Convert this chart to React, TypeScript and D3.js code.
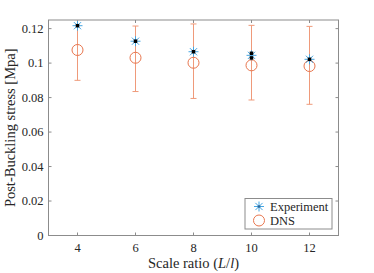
import React from "react";
import * as d3 from "d3";

const scales = [4, 6, 8, 10, 12];
const experimentMean = [0.1217, 0.1127, 0.1066, 0.1045, 0.1022];
const experimentSamples: number[][] = [[0.1217], [0.1127], [0.1066], [0.1057, 0.103], [0.1022]];
const dnsMean = [0.1076, 0.1031, 0.1002, 0.0987, 0.0983];
const dnsLow = [0.09, 0.0835, 0.0795, 0.0786, 0.0761];
const dnsHigh = [0.1252, 0.1215, 0.1227, 0.1219, 0.1213];
const xTicks = [4, 6, 8, 10, 12];
const yTicks = [0, 0.02, 0.04, 0.06, 0.08, 0.1, 0.12];
const yTickLabels = ["0", "0.02", "0.04", "0.06", "0.08", "0.1", "0.12"];

const W = 374, H = 273;
const L = 48.5, R = 338.5, T = 20, B = 235.5;
const axisColor = "#8c8c8c";
const textColor = "#262626";
const blue = "#46a6e2";
const orange = "#e8764e";
const barColor = "#ef9a7a";
const font = "'Liberation Serif', 'Times New Roman', serif";

function Star({ x, y }: { x: number; y: number }) {
  const r = 5, d = 3.6;
  return (
    <g stroke={blue} strokeWidth={1}>
      <line x1={x - r} x2={x + r} y1={y} y2={y} />
      <line x1={x} x2={x} y1={y - r} y2={y + r} />
      <line x1={x - d} x2={x + d} y1={y - d} y2={y + d} />
      <line x1={x - d} x2={x + d} y1={y + d} y2={y - d} />
    </g>
  );
}

export default function App() {
  const x = d3.scaleLinear().domain([3, 13]).range([L, R]);
  const y = d3.scaleLinear().domain([0, 0.125]).range([B, T]);
  return (
    <svg width={W} height={H} style={{ position: "absolute", left: 0, top: 0, background: "#fff" }}>
      <defs>
        <clipPath id="plotclip">
          <rect x={L} y={T} width={R - L} height={B - T} />
        </clipPath>
      </defs>
      {xTicks.map((t) => (
        <g key={"x" + t} stroke={axisColor} strokeWidth={1}>
          <line x1={x(t)} x2={x(t)} y1={B} y2={B - 3} />
          <line x1={x(t)} x2={x(t)} y1={T} y2={T + 3} />
        </g>
      ))}
      {yTicks.map((t) => (
        <g key={"y" + t} stroke={axisColor} strokeWidth={1}>
          <line x1={L} x2={L + 3} y1={y(t)} y2={y(t)} />
          <line x1={R} x2={R - 3} y1={y(t)} y2={y(t)} />
        </g>
      ))}
      <g clipPath="url(#plotclip)">
        {scales.map((s, i) => (
          <g key={"e" + s} stroke={barColor} strokeWidth={1}>
            <line x1={x(s)} x2={x(s)} y1={y(dnsLow[i])} y2={y(dnsHigh[i])} />
            <line x1={x(s) - 3} x2={x(s) + 3} y1={y(dnsLow[i])} y2={y(dnsLow[i])} />
            <line x1={x(s) - 3} x2={x(s) + 3} y1={y(dnsHigh[i])} y2={y(dnsHigh[i])} />
          </g>
        ))}
        {scales.map((s, i) => (
          <circle key={"c" + s} cx={x(s)} cy={y(dnsMean[i])} r={5.5} fill="none" stroke={orange} strokeWidth={1} />
        ))}
        {scales.map((s, i) => (
          <Star key={"s" + s} x={x(s)} y={y(experimentMean[i])} />
        ))}
        {scales.map((s, i) =>
          experimentSamples[i].map((v, j) => (
            <rect key={"b" + s + "_" + j} x={x(s) - 1.75} y={y(v) - 1.75} width={3.5} height={3.5} fill="#000" />
          ))
        )}
      </g>
      <rect x={L} y={T} width={R - L} height={B - T} fill="none" stroke={axisColor} strokeWidth={1} />
      {xTicks.map((t) => (
        <text key={"xl" + t} x={x(t)} y={252} textAnchor="middle" fontFamily={font} fontSize={12.5} fill={textColor}>
          {t}
        </text>
      ))}
      {yTicks.map((t, i) => (
        <text key={"yl" + t} x={L - 5} y={y(t) + 4} textAnchor="end" fontFamily={font} fontSize={12.5} fill={textColor}>
          {yTickLabels[i]}
        </text>
      ))}
      <text x={(L + R) / 2} y={268} textAnchor="middle" fontFamily={font} fontSize={14.5} fill={textColor}>
        Scale ratio (<tspan fontStyle="italic">L</tspan>/<tspan fontStyle="italic">l</tspan>)
      </text>
      <text
        transform={`translate(15,${(T + B) / 2}) rotate(-90)`}
        textAnchor="middle"
        fontFamily={font}
        fontSize={14.5}
        fill={textColor}
      >
        Post-Buckling stress [Mpa]
      </text>
      <rect x={245} y={198.5} width={87} height={30.5} fill="#fff" stroke={axisColor} strokeWidth={1} />
      <Star x={259} y={206.5} />
      <rect x={257.75} y={205.25} width={2.5} height={2.5} fill="#1a4d80" opacity={0.7} />
      <circle cx={259} cy={220.5} r={5.5} fill="none" stroke={orange} strokeWidth={1} />
      <text x={270} y={210.5} fontFamily={font} fontSize={12.5} fill={textColor}>Experiment</text>
      <text x={270} y={224.5} fontFamily={font} fontSize={12.5} fill={textColor}>DNS</text>
    </svg>
  );
}
